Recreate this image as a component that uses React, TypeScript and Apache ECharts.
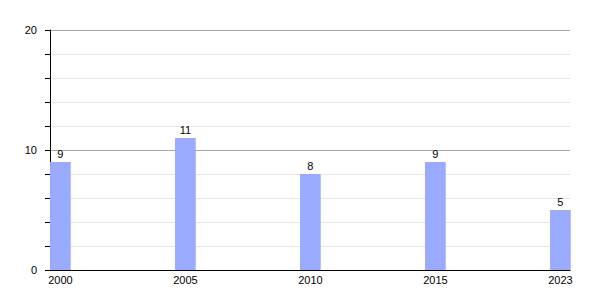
import React, { useEffect, useRef } from "react";
import * as echarts from "echarts";

const years = ["2000", "2005", "2010", "2015", "2023"];
const counts = [9, 11, 8, 9, 5];
const yTickLabels = [0, 10, 20];

export default function App() {
  const ref = useRef<HTMLDivElement>(null);
  useEffect(() => {
    document.body.style.margin = "0";
    const chart = echarts.init(ref.current!, null, { renderer: "svg" });
    const font = "'Liberation Sans', Arial, sans-serif";
    chart.setOption({
      animation: false,
      grid: { left: 50, right: 30, top: 30, bottom: 30, containLabel: false },
      xAxis: {
        type: "value",
        min: -0.083,
        max: 4.077,
        axisLine: { show: true, onZero: false, lineStyle: { color: "#000", width: 1 } },
        axisTick: { show: false },
        splitLine: { show: false },
        axisLabel: {
          customValues: years.map((_, i) => i),
          formatter: (v: number) => years[Math.round(v)] ?? "",
          color: "#000",
          fontSize: 11,
          fontFamily: font,
          margin: 4,
        },
      },
      yAxis: {
        type: "value",
        min: 0,
        max: 20,
        interval: 10,
        axisLine: { show: true, onZero: false, lineStyle: { color: "#000", width: 1 } },
        axisTick: { show: true, length: 5, lineStyle: { color: "#000" } },
        minorTick: { show: true, splitNumber: 5, length: 5, lineStyle: { color: "#000" } },
        splitLine: { show: true, lineStyle: { color: "#a8a8a8", width: 1 } },
        minorSplitLine: { show: true, lineStyle: { color: "#e6e6e6", width: 1 } },
        axisLabel: {
          customValues: yTickLabels,
          color: "#000",
          fontSize: 11,
          fontFamily: font,
          margin: 13,
        },
      },
      series: [
        {
          type: "bar",
          data: counts.map((c, i) => [i, c]),
          barWidth: 20.7,
          itemStyle: { color: "#99aaff" },
          label: {
            show: true,
            position: "top",
            distance: 3,
            color: "#000",
            fontSize: 11,
            fontFamily: font,
            formatter: (p: any) => String(p.value[1]),
          },
        },
      ],
    });
    return () => chart.dispose();
  }, []);
  return <div ref={ref} style={{ width: 600, height: 300 }} />;
}
